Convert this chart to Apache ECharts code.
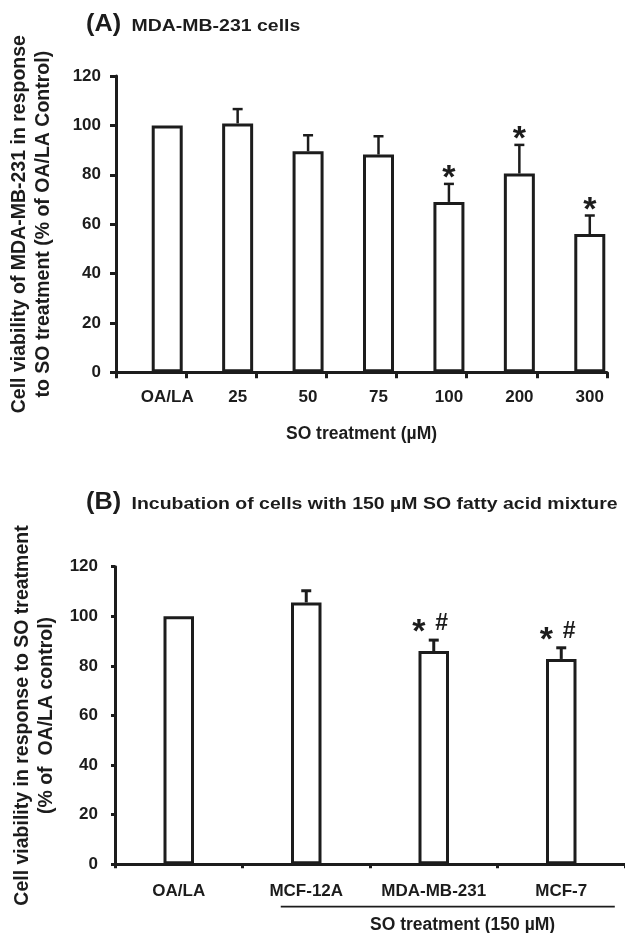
<!DOCTYPE html>
<html>
<head>
<meta charset="utf-8">
<script src="https://cdn.jsdelivr.net/npm/echarts@6/dist/echarts.min.js"></script>
<style>
html,body{margin:0;padding:0;background:#fff;}
#chart{width:625px;height:933px;}
</style>
</head>
<body>
<div id="chart"></div>
<script>
// ---------- data ----------
const catA = ['OA/LA', '25', '50', '75', '100', '200', '300'];
const valA = [100, 100.8, 89.5, 88.2, 69, 80.5, 56];
const errA = [0, 5.8, 6.5, 7.4, 7.3, 11.6, 7.5];
const sigA = ['', '', '', '', '*', '*', '*'];

const catB = ['OA/LA', 'MCF-12A', 'MDA-MB-231', 'MCF-7'];
const valB = [100, 105.6, 86, 82.8];
const errB = [0, 4.7, 4.4, 4.5];
const sigB = [[], [], ['*', '#'], ['*', '#']];

const yTicks = [0, 20, 40, 60, 80, 100, 120];

const titleA = ['(A)', 'MDA-MB-231 cells'];
const titleB = ['(B)', 'Incubation of cells with 150 µM SO fatty acid mixture'];
const yNameA = 'Cell viability of MDA-MB-231 in response\nto SO treatment (% of OA/LA Control)';
const yNameB = 'Cell viability in response to SO treatment\n(% of  OA/LA control)';
const xNameA = 'SO treatment (µM)';
const xNameB = 'SO treatment (150 µM)';

// ---------- style ----------
const INK = '#1c1c1c';
const FONT = '"Liberation Sans", Arial, Helvetica, sans-serif';
const yMin = yTicks[0], yMax = yTicks[yTicks.length - 1], yStep = yTicks[1] - yTicks[0];

const chart = echarts.init(document.getElementById('chart'), null, {renderer: 'canvas'});

function valueAxis(grid, show, opts) {
  return Object.assign({
    type: 'value', gridIndex: grid, min: yMin, max: yMax, interval: yStep,
    splitLine: {show: false},
    axisLine: {show: show, lineStyle: {color: INK, width: 3}},
    axisTick: {show: show, inside: false, length: 6, lineStyle: {color: INK, width: 3}},
    axisLabel: {show: show, color: INK, fontFamily: FONT, fontWeight: 'bold', fontSize: 17, margin: 15}
  }, opts || {});
}

function errRender(errs, sigs, kind) {
  return function (params, api) {
    const i = params.dataIndex;
    const x = api.value(0), v = api.value(1), e = errs[i];
    const children = [];
    const p0 = api.coord([x, v]);
    const p1 = api.coord([x, v + e]);
    const lw = kind === 'A' ? 2.5 : 3;
    if (e > 0) {
      children.push({type: 'line', shape: {x1: p0[0], y1: p0[1], x2: p1[0], y2: p1[1]},
        style: {stroke: INK, lineWidth: lw}});
      children.push({type: 'line', shape: {x1: p1[0] - 5, y1: p1[1], x2: p1[0] + 5, y2: p1[1]},
        style: {stroke: INK, lineWidth: lw}});
    }
    if (kind === 'A' && sigs[i]) {
      children.push({type: 'text', x: p1[0], y: p1[1] - 5,
        style: {text: sigs[i], fill: INK, font: 'bold 34px ' + FONT, align: 'center', verticalAlign: 'middle'}});
    }
    if (kind === 'B' && sigs[i].length) {
      children.push({type: 'text', x: p1[0] - 15, y: p1[1] - 7,
        style: {text: sigs[i][0], fill: INK, font: 'bold 34px ' + FONT, align: 'center', verticalAlign: 'middle'}});
      children.push({type: 'text', x: p1[0] + 8, y: p1[1] - 16,
        style: {text: sigs[i][1], fill: INK, font: 'bold 23px ' + FONT, align: 'center', verticalAlign: 'middle'}});
    }
    return {type: 'group', children: children};
  };
}

function titleText(x, baseline, size, sx, text) {
  return {type: 'text', x: x, y: baseline - 0.3465 * size, scaleX: sx,
    style: {text: text, fill: INK, font: 'bold ' + size + 'px ' + FONT, verticalAlign: 'middle'}};
}

const option = {
  animation: false,
  backgroundColor: '#fff',
  grid: [
    {left: 114, top: 76, width: 493, height: 296.3},
    {left: 132, top: 76, width: 493, height: 296.3},
    {left: 115, top: 566.7, width: 513.6, height: 297.6}
  ],
  xAxis: [
    {type: 'category', gridIndex: 0, data: catA, boundaryGap: true,
      axisLine: {lineStyle: {color: INK, width: 3}},
      axisTick: {show: true, length: 6, lineStyle: {color: INK, width: 3}},
      axisLabel: {show: false},
      name: xNameA, nameLocation: 'middle', nameGap: 53,
      nameTextStyle: {color: INK, fontFamily: FONT, fontWeight: 'bold', fontSize: 17.5}},
    {type: 'category', gridIndex: 1, data: catA, boundaryGap: true,
      axisLine: {show: false}, axisTick: {show: false},
      axisLabel: {show: true, color: INK, fontFamily: FONT, fontWeight: 'bold', fontSize: 17, margin: 16.5, interval: 0}},
    {type: 'category', gridIndex: 2, data: catB, boundaryGap: true,
      axisLine: {lineStyle: {color: INK, width: 3}},
      axisTick: {show: true, length: 4, lineStyle: {color: INK, width: 3}},
      axisLabel: {show: true, color: INK, fontFamily: FONT, fontWeight: 'bold', fontSize: 17, margin: 19, interval: 0}}
  ],
  yAxis: [
    valueAxis(0, true, {name: yNameA, nameLocation: 'middle', nameRotate: 90, nameGap: 60,
      nameTextStyle: {color: INK, fontFamily: FONT, fontWeight: 'bold', fontSize: 19.5, lineHeight: 24}}),
    valueAxis(1, false),
    valueAxis(2, true, {axisTick: {show: true, length: 4, lineStyle: {color: INK, width: 3}},
      axisLabel: {color: INK, fontFamily: FONT, fontWeight: 'bold', fontSize: 17, margin: 17},
      name: yNameB, nameLocation: 'middle', nameRotate: 90, nameGap: 51,
      nameTextStyle: {color: INK, fontFamily: FONT, fontWeight: 'bold', fontSize: 19.5, lineHeight: 24}})
  ],
  series: [
    {type: 'bar', xAxisIndex: 1, yAxisIndex: 1, data: valA, barWidth: 31,
      itemStyle: {color: '#fff', borderColor: INK, borderWidth: 3}, z: 3},
    {type: 'custom', xAxisIndex: 1, yAxisIndex: 1, z: 2,
      data: catA.map((c, i) => [i, valA[i]]),
      renderItem: errRender(errA, sigA, 'A')},
    {type: 'bar', xAxisIndex: 2, yAxisIndex: 2, data: valB, barWidth: 30.5,
      itemStyle: {color: '#fff', borderColor: INK, borderWidth: 3}, z: 3},
    {type: 'custom', xAxisIndex: 2, yAxisIndex: 2, z: 2,
      data: catB.map((c, i) => [i, valB[i]]),
      renderItem: errRender(errB, sigB, 'B')},
    {type: 'custom', xAxisIndex: 2, yAxisIndex: 2, z: 2,
      data: [[1, 3]],
      renderItem: function (params, api) {
        const a = api.coord([api.value(0), 0]);
        const b = api.coord([api.value(1), 0]);
        const bw = api.size([1, 0])[0];
        const x1 = a[0] - 0.2 * bw, x2 = b[0] + 0.42 * bw;
        return {type: 'group', children: [
          {type: 'line', shape: {x1: x1, y1: a[1] + 42.4, x2: x2, y2: a[1] + 42.4},
            style: {stroke: INK, lineWidth: 1.8}},
          {type: 'text', x: a[0] + 1.226 * bw, y: a[1] + 61,
            style: {text: xNameB, fill: INK, font: 'bold 17.5px ' + FONT, align: 'center', verticalAlign: 'middle'}}
        ]};
      }}
  ],
  graphic: [
    titleText(86, 33, 23, 1.1, titleA[0]),
    titleText(131.5, 32, 16.5, 1.18, titleA[1]),
    titleText(86, 511, 23, 1.1, titleB[0]),
    titleText(131.5, 510.5, 16.5, 1.18, titleB[1])
  ]
};
chart.setOption(option);
</script>
</body>
</html>
